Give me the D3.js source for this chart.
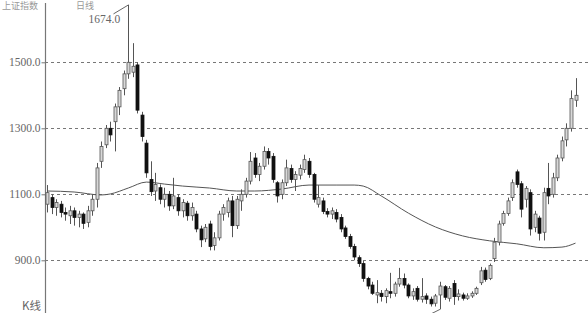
<!DOCTYPE html>
<html>
<head>
<meta charset="utf-8">
<script src="https://cdn.jsdelivr.net/npm/d3@7"></script>
<style>
  html, body { margin: 0; padding: 0; background: #fff; }
  svg { display: block; }
  text { font-family: "Liberation Serif", "Noto Sans CJK SC", serif; fill: #666; }
</style>
</head>
<body>
<svg id="chart"></svg>
<script>
'use strict'

// candles (oldest first)
const open  = [1070,1090,1060,1070,1045,1035,1050,1030,1040,1015,1050,1085,1200,1250,1300,1320,1365,1420,1465,1470,
               1492,1340,1255,1145,1110,1120,1085,1100,1065,1090,1050,1073,1035,1040,995,965,1010,945,968,1040,
               1045,1080,1005,1080,1100,1140,1210,1160,1185,1230,1215,1135,1100,1135,1178,1145,1158,1175,1200,1160,
               1070,1080,1048,1040,1045,1030,998,972,942,908,890,845,825,795,800,790,805,800,828,845,
               825,792,815,782,792,782,770,795,820,785,830,790,795,785,792,800,832,870,845,905,
               955,1012,1042,1090,1168,1132,1085,1105,1000,1028,985,1118,1100,1150,1210,1265,1300,1385]
const high  = [1128,1100,1085,1080,1060,1065,1060,1050,1045,1065,1100,1195,1260,1310,1320,1375,1425,1475,1674,1558,
               1500,1350,1265,1200,1165,1130,1120,1110,1150,1100,1085,1080,1075,1050,1005,1010,1020,985,1050,1070,
               1090,1095,1095,1115,1150,1228,1225,1195,1245,1240,1225,1140,1145,1205,1190,1170,1190,1220,1210,1165,
               1128,1090,1058,1060,1055,1040,1005,980,950,915,898,850,835,840,810,815,862,835,877,860,
               830,815,822,846,800,790,798,835,825,822,840,812,802,800,806,820,880,878,890,968,
               1020,1050,1090,1145,1175,1140,1125,1115,1050,1035,1120,1195,1165,1220,1275,1315,1415,1452]
const low   = [1045,1040,1035,1030,1020,1010,1005,1000,995,1000,1035,1060,1180,1240,1260,1230,1340,1400,1450,1455,
               1345,1260,1150,1095,1080,1070,1060,1050,1055,1035,1030,1020,1020,985,940,955,930,930,960,1020,
               1030,970,995,1050,1090,1130,1150,1140,1175,1190,1135,1075,1085,1125,1135,1110,1145,1165,1150,1075,
               1060,1040,1030,1025,1015,985,965,935,900,880,835,812,795,770,775,770,785,790,820,815,
               785,780,775,772,768,760,760,752,780,775,765,778,778,780,786,795,825,835,840,895,
               945,1005,1035,1080,1120,1030,1060,975,985,960,960,1070,1090,1140,1200,1245,1290,1365]
const close = [1105,1060,1075,1045,1040,1050,1030,1040,1012,1050,1085,1180,1245,1300,1280,1365,1415,1465,1500,1488,
               1355,1275,1165,1108,1130,1085,1100,1065,1095,1050,1075,1035,1060,995,962,1000,942,968,1040,1060,
               1080,1005,1085,1100,1140,1200,1160,1185,1230,1210,1145,1095,1135,1180,1145,1160,1178,1205,1160,1085,
               1090,1048,1040,1050,1025,995,972,942,910,890,845,822,800,802,790,808,800,828,845,825,
               792,805,782,790,782,768,792,822,788,815,790,798,785,792,800,815,868,842,884,955,
               1010,1042,1080,1135,1130,1055,1118,995,1040,982,1105,1095,1150,1210,1262,1300,1390,1400]

// long moving average, sampled at candle indexes
const maIndex = [0,6,12,14,18,22,26,30,36,42,46,52,58,64,68,70,74,80,86,92,98,104,110,114,117]
const maValue = [1110,1107,1098,1101,1119,1137,1131,1125,1119,1110,1110,1116,1128,1128,1128,1125,1095,1043,1001,974,959,950,938,940,952]

const yTicks = [900, 1100, 1300, 1500]
const titleParts = ['上证指数', '日线']
const kLabel = 'K线'

const width = 588, height = 313

const svg = d3.select('#chart')
    .attr('width', width)
    .attr('height', height)

const x = d3.scaleLinear()
    .domain([0, close.length - 1])
    .range([47, 575.5])

const y = d3.scaleLinear()
    .domain([900, 1500])
    .range([260.3, 62.3])

// dashed grid lines
svg.append('g')
    .selectAll('line')
    .data(yTicks)
    .join('line')
    .attr('x1', 45)
    .attr('x2', width)
    .attr('y1', d => Math.round(y(d)) + 0.5)
    .attr('y2', d => Math.round(y(d)) + 0.5)
    .attr('stroke', '#777')
    .attr('stroke-width', 1)
    .attr('stroke-dasharray', '3,3')

// y axis on the left
const yAxis = d3.axisLeft(y)
    .tickValues(yTicks)
    .tickFormat(d3.format('.1f'))
    .tickSize(4)
    .tickPadding(1)

const axisG = svg.append('g')
    .attr('transform', 'translate(45.5,0)')
    .call(yAxis)

axisG.select('.domain').remove()
axisG.selectAll('.tick line').attr('stroke', '#777')
axisG.selectAll('.tick text')
    .attr('fill', '#666')
    .style('font-family', '"Liberation Serif", serif')
    .style('font-size', '11.5px')

svg.append('line')
    .attr('x1', 45.5).attr('x2', 45.5)
    .attr('y1', 3).attr('y2', height)
    .attr('stroke', '#777')
    .attr('stroke-width', 1.2)

// moving average
const maLine = d3.line()
    .x((d, i) => x(maIndex[i]))
    .y(d => y(d))
    .curve(d3.curveMonotoneX)

svg.append('path')
    .datum(maValue)
    .attr('d', maLine)
    .attr('fill', 'none')
    .attr('stroke', '#555')
    .attr('stroke-width', 1)

// candles
const idx = d3.range(close.length)
const bodyW = 3

const candles = svg.append('g')
    .selectAll('g')
    .data(idx)
    .join('g')

candles.append('line')
    .attr('x1', i => Math.round(x(i)) + 0.5)
    .attr('x2', i => Math.round(x(i)) + 0.5)
    .attr('y1', i => y(high[i]))
    .attr('y2', i => y(low[i]))
    .attr('stroke', '#555')
    .attr('stroke-width', 1)

candles.append('rect')
    .attr('x', i => Math.round(x(i)) + 0.5 - bodyW / 2)
    .attr('width', bodyW)
    .attr('y', i => y(Math.max(open[i], close[i])))
    .attr('height', i => Math.max(1, Math.abs(y(open[i]) - y(close[i]))))
    .attr('fill', i => close[i] >= open[i] ? '#d8d8d8' : '#111')
    .attr('stroke', i => close[i] >= open[i] ? '#555' : '#111')
    .attr('stroke-width', 0.8)

// peak annotation
const peakI = d3.maxIndex(high)
const px = Math.round(x(peakI)) + 0.5
const py = y(high[peakI])

svg.append('polyline')
    .attr('points', [[px - 15, py + 9], [px, py]].join(' '))
    .attr('fill', 'none')
    .attr('stroke', '#666')
    .attr('stroke-width', 1)

svg.append('text')
    .attr('x', px - 40)
    .attr('y', py + 18)
    .style('font-size', '11.5px')
    .text(d3.format('.1f')(high[peakI]))

// low annotation leader, runs off the bottom
const lowI = d3.minIndex(low)
const lx = Math.round(x(lowI)) + 0.5
const ly = y(low[lowI])

svg.append('line')
    .attr('x1', lx).attr('y1', ly)
    .attr('x2', lx - 20).attr('y2', ly + 10)
    .attr('stroke', '#666')
    .attr('stroke-width', 1)

// header at the top edge
svg.append('g')
    .selectAll('text')
    .data(titleParts)
    .join('text')
    .attr('x', (d, i) => i === 0 ? 2 : 76)
    .attr('y', 9)
    .style('font-size', '9px')
    .style('fill', '#999')
    .text(d => d)

svg.append('text')
    .attr('x', 22)
    .attr('y', 310)
    .style('font-size', '11.5px')
    .style('font-family', '"Noto Sans CJK SC", serif')
    .text(kLabel)
</script>
</body>
</html>
